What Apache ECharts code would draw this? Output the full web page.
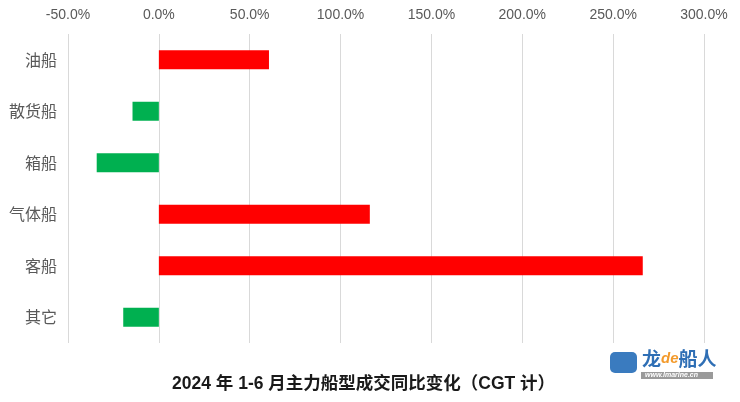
<!DOCTYPE html>
<html>
<head>
<meta charset="utf-8">
<script src="https://cdn.jsdelivr.net/npm/echarts@6/dist/echarts.min.js"></script>
<style>html,body{margin:0;padding:0;background:#fff;}#c{width:740px;height:402px;}</style>
</head>
<body>
<div id="c"></div>
<script>
const categories = ['油船', '散货船', '箱船', '气体船', '客船', '其它'];
const values = [60.6, -14.5, -34.2, 116.1, 266.3, -19.6];
const xTicks = [-50, 0, 50, 100, 150, 200, 250, 300];
const titleText = '2024 年 1-6 月主力船型成交同比变化（CGT 计）';

const chart = echarts.init(document.getElementById('c'));
chart.setOption({
  animation: false,
  backgroundColor: '#fff',
  grid: { left: 68, right: 36, top: 34, bottom: 59, containLabel: false },
  xAxis: {
    type: 'value', position: 'top',
    min: xTicks[0], max: xTicks[xTicks.length - 1], interval: 50,
    axisLine: { show: false }, axisTick: { show: false },
    axisLabel: { color: '#595959', fontSize: 14, fontFamily: 'Liberation Sans, Arial, sans-serif', margin: 12,
      formatter: v => v.toFixed(1) + '%' },
    splitLine: { lineStyle: { color: '#d9d9d9', width: 1 } }
  },
  yAxis: {
    type: 'category', data: categories, inverse: true,
    axisLine: { show: false, onZero: false }, axisTick: { show: false },
    axisLabel: { color: '#595959', fontSize: 16, fontFamily: 'Noto Sans CJK SC', margin: 11 }
  },
  series: [{
    type: 'bar', barWidth: 19,
    data: values.map(v => ({ value: v, itemStyle: { color: v >= 0 ? '#FF0000' : '#00B050' } }))
  }],
  graphic: [
    { type: 'text', left: 172, top: 375,
      style: { text: titleText, fill: '#1a1a1a', font: 'bold 17.5px "Liberation Sans", "Noto Sans CJK SC", sans-serif' } },
    { type: 'rect', left: 610, top: 352, shape: { width: 27, height: 21, r: 5 }, style: { fill: '#3a7bbf' } },
    { type: 'text', left: 642, top: 349,
      style: { rich: { a: { fill: '#2f6fb5', font: 'bold 19px "Noto Sans CJK SC"' }, b: { fill: '#f39a2b', font: 'italic bold 15px "Liberation Sans"' } },
        text: '{a|龙}{b|de}{a|船人}' } },
    { type: 'rect', left: 641, top: 372, shape: { width: 72, height: 7 }, style: { fill: '#9a9a9a' } },
    { type: 'text', left: 645, top: 372,
      style: { text: 'www.lmarine.cn', fill: '#fff', font: 'italic bold 7px "Liberation Sans"' } }
  ]
});
</script>
</body>
</html>
